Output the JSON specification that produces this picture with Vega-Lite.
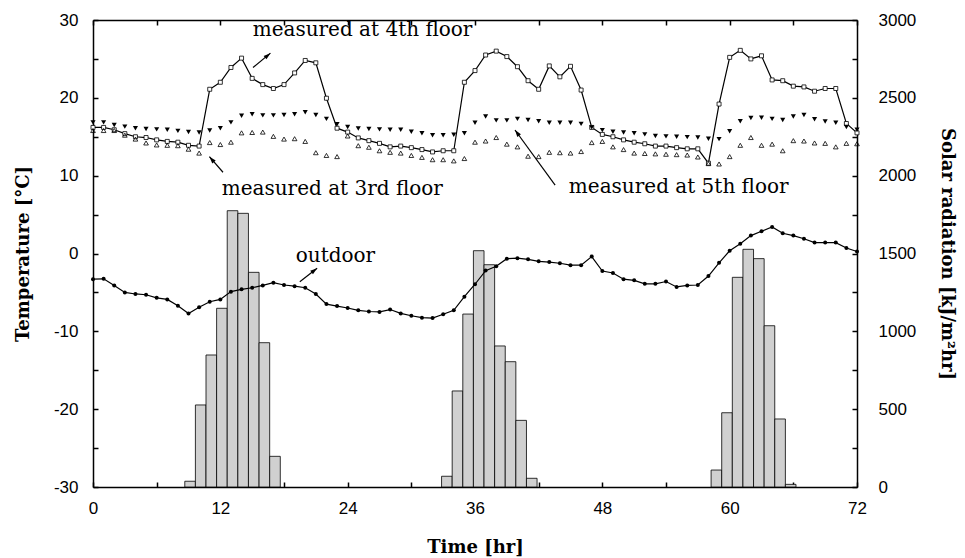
{
  "$schema": "https://vega.github.io/schema/vega-lite/v6.json",
  "width": 764,
  "height": 467,
  "autosize": {"type": "none"},
  "padding": {"left": 93, "top": 20, "right": 108, "bottom": 71},
  "background": "white",
  "config": {
    "view": {"stroke": null},
    "axis": {
      "domainColor": "black", "domainWidth": 1.5,
      "tickColor": "black", "tickWidth": 1.5, "tickSize": -5,
      "grid": false,
      "labelFont": "Liberation Sans", "labelFontSize": 17, "labelColor": "black",
      "labelFlush": false, "labelOverlap": false,
      "titleFont": "DejaVu Serif", "titleFontWeight": "bold", "titleFontSize": 18, "titleColor": "black"
    }
  },
  "datasets": {
    "temp": [
      {"h":0,"f4":16.2,"f5":16.85,"f3":15.8,"out":-3.3},
      {"h":1,"f4":16.2,"f5":16.85,"f3":15.8,"out":-3.25},
      {"h":2,"f4":15.9,"f5":16.5,"f3":15.8,"out":-4.1},
      {"h":3,"f4":15.4,"f5":16.3,"f3":15.2,"out":-5.0},
      {"h":4,"f4":15.0,"f5":16.1,"f3":14.7,"out":-5.2},
      {"h":5,"f4":14.9,"f5":16.0,"f3":14.2,"out":-5.3},
      {"h":6,"f4":14.6,"f5":15.95,"f3":13.95,"out":-5.7},
      {"h":7,"f4":14.4,"f5":15.9,"f3":13.9,"out":-5.9},
      {"h":8,"f4":14.3,"f5":15.75,"f3":13.85,"out":-6.7},
      {"h":9,"f4":13.9,"f5":15.6,"f3":13.4,"out":-7.7},
      {"h":10,"f4":13.8,"f5":15.55,"f3":12.9,"out":-6.9},
      {"h":11,"f4":21.1,"f5":15.8,"f3":14.25,"out":-6.2},
      {"h":12,"f4":22.0,"f5":16.1,"f3":14.0,"out":-5.9},
      {"h":13,"f4":23.9,"f5":16.85,"f3":14.3,"out":-4.9},
      {"h":14,"f4":25.1,"f5":17.7,"f3":15.5,"out":-4.6},
      {"h":15,"f4":22.5,"f5":17.9,"f3":15.55,"out":-4.4},
      {"h":16,"f4":21.7,"f5":17.75,"f3":15.6,"out":-4.1},
      {"h":17,"f4":21.2,"f5":17.75,"f3":15.05,"out":-3.75},
      {"h":18,"f4":21.7,"f5":17.8,"f3":14.7,"out":-4.05},
      {"h":19,"f4":23.2,"f5":17.9,"f3":14.75,"out":-4.2},
      {"h":20,"f4":24.8,"f5":18.15,"f3":14.4,"out":-4.4},
      {"h":21,"f4":24.5,"f5":17.8,"f3":12.95,"out":-5.2},
      {"h":22,"f4":19.95,"f5":17.3,"f3":12.6,"out":-6.5},
      {"h":23,"f4":16.1,"f5":16.6,"f3":12.45,"out":-6.75},
      {"h":24,"f4":15.6,"f5":16.25,"f3":15.1,"out":-7.0},
      {"h":25,"f4":14.85,"f5":16.05,"f3":13.85,"out":-7.3},
      {"h":26,"f4":14.5,"f5":16.0,"f3":13.65,"out":-7.45},
      {"h":27,"f4":14.15,"f5":15.95,"f3":13.2,"out":-7.5},
      {"h":28,"f4":13.7,"f5":15.9,"f3":13.0,"out":-7.2},
      {"h":29,"f4":13.8,"f5":15.9,"f3":12.9,"out":-7.7},
      {"h":30,"f4":13.6,"f5":15.65,"f3":12.6,"out":-8.0},
      {"h":31,"f4":13.35,"f5":15.45,"f3":12.35,"out":-8.25},
      {"h":32,"f4":13.05,"f5":15.2,"f3":12.05,"out":-8.3},
      {"h":33,"f4":13.2,"f5":15.2,"f3":12.05,"out":-7.8},
      {"h":34,"f4":13.2,"f5":15.25,"f3":11.9,"out":-7.3},
      {"h":35,"f4":22.0,"f5":15.45,"f3":12.2,"out":-5.55},
      {"h":36,"f4":23.5,"f5":16.8,"f3":14.3,"out":-3.95},
      {"h":37,"f4":25.5,"f5":17.6,"f3":14.45,"out":-2.2},
      {"h":38,"f4":26.0,"f5":17.1,"f3":14.9,"out":-1.65},
      {"h":39,"f4":25.3,"f5":17.1,"f3":14.05,"out":-0.67},
      {"h":40,"f4":24.0,"f5":17.3,"f3":13.7,"out":-0.6},
      {"h":41,"f4":22.2,"f5":17.15,"f3":12.5,"out":-0.75},
      {"h":42,"f4":21.1,"f5":17.0,"f3":12.45,"out":-1.0},
      {"h":43,"f4":24.1,"f5":16.8,"f3":13.0,"out":-1.1},
      {"h":44,"f4":22.7,"f5":16.8,"f3":12.95,"out":-1.25},
      {"h":45,"f4":24.05,"f5":16.8,"f3":12.9,"out":-1.5},
      {"h":46,"f4":21.0,"f5":16.65,"f3":13.1,"out":-1.5},
      {"h":47,"f4":16.2,"f5":16.2,"f3":14.25,"out":-0.4},
      {"h":48,"f4":15.3,"f5":15.85,"f3":14.4,"out":-2.25},
      {"h":49,"f4":15.0,"f5":15.65,"f3":13.7,"out":-2.5},
      {"h":50,"f4":14.6,"f5":15.55,"f3":13.35,"out":-3.3},
      {"h":51,"f4":14.3,"f5":15.45,"f3":12.9,"out":-3.45},
      {"h":52,"f4":14.1,"f5":15.3,"f3":12.85,"out":-3.9},
      {"h":53,"f4":13.8,"f5":15.1,"f3":12.8,"out":-3.9},
      {"h":54,"f4":13.8,"f5":15.05,"f3":12.75,"out":-3.6},
      {"h":55,"f4":13.6,"f5":15.0,"f3":12.7,"out":-4.3},
      {"h":56,"f4":13.45,"f5":14.95,"f3":12.65,"out":-4.1},
      {"h":57,"f4":13.45,"f5":14.9,"f3":12.4,"out":-4.05},
      {"h":58,"f4":11.6,"f5":14.75,"f3":11.55,"out":-2.9},
      {"h":59,"f4":19.2,"f5":14.7,"f3":11.5,"out":-1.2},
      {"h":60,"f4":25.2,"f5":15.7,"f3":12.45,"out":0.35},
      {"h":61,"f4":26.1,"f5":17.0,"f3":13.9,"out":1.25},
      {"h":62,"f4":25.0,"f5":17.4,"f3":14.9,"out":2.3},
      {"h":63,"f4":25.4,"f5":17.45,"f3":13.9,"out":2.85},
      {"h":64,"f4":22.3,"f5":17.3,"f3":14.05,"out":3.4},
      {"h":65,"f4":22.2,"f5":17.15,"f3":13.2,"out":2.6},
      {"h":66,"f4":21.5,"f5":17.6,"f3":14.5,"out":2.3},
      {"h":67,"f4":21.4,"f5":17.8,"f3":14.45,"out":1.9},
      {"h":68,"f4":20.85,"f5":17.25,"f3":14.2,"out":1.4},
      {"h":69,"f4":21.2,"f5":16.95,"f3":14.15,"out":1.4},
      {"h":70,"f4":21.2,"f5":16.8,"f3":13.7,"out":1.4},
      {"h":71,"f4":16.7,"f5":16.25,"f3":14.15,"out":0.7},
      {"h":72,"f4":15.5,"f5":15.9,"f3":14.1,"out":0.25}
    ],
    "solar": [
      {"t0":8.65,"t1":9.65,"R":37},
      {"t0":9.65,"t1":10.65,"R":527},
      {"t0":10.65,"t1":11.65,"R":848},
      {"t0":11.65,"t1":12.65,"R":1148},
      {"t0":12.65,"t1":13.65,"R":1775},
      {"t0":13.65,"t1":14.65,"R":1758},
      {"t0":14.65,"t1":15.65,"R":1379},
      {"t0":15.65,"t1":16.65,"R":927},
      {"t0":16.65,"t1":17.65,"R":197},
      {"t0":32.85,"t1":33.85,"R":69},
      {"t0":33.85,"t1":34.85,"R":617},
      {"t0":34.85,"t1":35.85,"R":1111},
      {"t0":35.85,"t1":36.85,"R":1518},
      {"t0":36.85,"t1":37.85,"R":1428},
      {"t0":37.85,"t1":38.85,"R":906},
      {"t0":38.85,"t1":39.85,"R":805},
      {"t0":39.85,"t1":40.85,"R":428},
      {"t0":40.85,"t1":41.85,"R":56},
      {"t0":58.25,"t1":59.25,"R":109},
      {"t0":59.25,"t1":60.25,"R":477},
      {"t0":60.25,"t1":61.25,"R":1347},
      {"t0":61.25,"t1":62.25,"R":1527},
      {"t0":62.25,"t1":63.25,"R":1467},
      {"t0":63.25,"t1":64.25,"R":1036},
      {"t0":64.25,"t1":65.25,"R":437},
      {"t0":65.25,"t1":66.25,"R":17}
    ],
    "notes": [
      {"label":"measured at 4th floor","h":25.4,"T":27.95},
      {"label":"measured at 3rd floor","h":22.55,"T":7.5},
      {"label":"measured at 5th floor","h":55.2,"T":7.75},
      {"label":"outdoor","h":22.85,"T":-1.05}
    ],
    "arrows": [
      {"id":"a4","h0":15.08,"T0":23.9,"h1":16.72,"T1":25.74},
      {"id":"a3","h0":12.25,"T0":10.44,"h1":10.97,"T1":12.44},
      {"id":"a5","h0":43.55,"T0":8.79,"h1":39.77,"T1":15.87},
      {"id":"ao","h0":19.49,"T0":-3.62,"h1":21.12,"T1":-1.9}
    ]
  },
  "resolve": {"scale": {"y": "independent"}, "axis": {"x": "independent"}},
  "layer": [
    {
      "data": {"name": "solar"},
      "mark": {"type": "bar", "fill": "#d0d0d0", "stroke": "black", "strokeWidth": 0.8},
      "encoding": {
        "x": {"field": "t0", "type": "quantitative",
              "scale": {"domain": [0, 72], "nice": false, "zero": false},
              "axis": {"orient": "bottom", "values": [0,6,12,18,24,30,36,42,48,54,60,66,72],
                       "labelExpr": "datum.value % 12 === 0 ? datum.label : ''",
                       "labelPadding": 18, "title": "Time [hr]", "titlePadding": 22}},
        "x2": {"field": "t1"},
        "y": {"field": "R", "type": "quantitative",
              "scale": {"domain": [0, 3000], "nice": false},
              "axis": {"orient": "right", "values": [0,250,500,750,1000,1250,1500,1750,2000,2250,2500,2750,3000],
                       "labelExpr": "datum.value % 500 === 0 ? datum.label : ''", "format": "d",
                       "labelPadding": 26, "title": "Solar radiation [kJ/m²hr]", "titlePadding": 22}},
        "y2": {"datum": 0}
      }
    },
    {
      "data": {"name": "temp"},
      "mark": {"type": "line", "color": "black", "strokeWidth": 1.2},
      "encoding": {
        "x": {"field": "h", "type": "quantitative",
              "axis": {"orient": "top", "values": [0,6,12,18,24,30,36,42,48,54,60,66,72], "labels": false, "title": null}},
        "y": {"field": "f4", "type": "quantitative",
              "scale": {"domain": [-30, 30], "nice": false, "zero": false},
              "axis": {"orient": "left", "values": [-30,-25,-20,-15,-10,-5,0,5,10,15,20,25,30],
                       "labelExpr": "datum.value % 10 === 0 ? '' + datum.value : ''",
                       "labelPadding": 20, "title": "Temperature [°C]", "titlePadding": 21}}
      }
    },
    {
      "data": {"name": "temp"},
      "mark": {"type": "point", "shape": "square", "filled": true, "fill": "white", "stroke": "black", "strokeWidth": 0.8, "size": 16, "opacity": 1},
      "encoding": {
        "x": {"field": "h", "type": "quantitative", "axis": null},
        "y": {"field": "f4", "type": "quantitative", "scale": {"domain": [-30, 30], "nice": false, "zero": false}, "axis": null}
      }
    },
    {
      "data": {"name": "temp"},
      "mark": {"type": "point", "shape": "triangle-down", "filled": true, "color": "black", "size": 26, "opacity": 1},
      "encoding": {
        "x": {"field": "h", "type": "quantitative", "axis": null},
        "y": {"field": "f5", "type": "quantitative", "scale": {"domain": [-30, 30], "nice": false, "zero": false}, "axis": null}
      }
    },
    {
      "data": {"name": "temp"},
      "mark": {"type": "point", "shape": "triangle-up", "filled": false, "stroke": "black", "strokeWidth": 0.8, "size": 22, "opacity": 1},
      "encoding": {
        "x": {"field": "h", "type": "quantitative", "axis": null},
        "y": {"field": "f3", "type": "quantitative", "scale": {"domain": [-30, 30], "nice": false, "zero": false}, "axis": null}
      }
    },
    {
      "data": {"name": "temp"},
      "mark": {"type": "line", "color": "black", "strokeWidth": 1.2},
      "encoding": {
        "x": {"field": "h", "type": "quantitative", "axis": null},
        "y": {"field": "out", "type": "quantitative", "scale": {"domain": [-30, 30], "nice": false, "zero": false}, "axis": null}
      }
    },
    {
      "data": {"name": "temp"},
      "mark": {"type": "point", "shape": "circle", "filled": true, "color": "black", "size": 16, "opacity": 1},
      "encoding": {
        "x": {"field": "h", "type": "quantitative", "axis": null},
        "y": {"field": "out", "type": "quantitative", "scale": {"domain": [-30, 30], "nice": false, "zero": false}, "axis": null}
      }
    },
    {
      "data": {"name": "notes"},
      "mark": {"type": "text", "font": "DejaVu Serif", "fontSize": 20, "align": "center", "baseline": "alphabetic", "color": "black"},
      "encoding": {
        "x": {"field": "h", "type": "quantitative", "axis": null},
        "y": {"field": "T", "type": "quantitative", "scale": {"domain": [-30, 30], "nice": false, "zero": false}, "axis": null},
        "text": {"field": "label"}
      }
    },
    {
      "data": {"name": "arrows"},
      "mark": {"type": "rule", "color": "black", "strokeWidth": 1.2},
      "encoding": {
        "x": {"field": "h0", "type": "quantitative", "axis": null},
        "y": {"field": "T0", "type": "quantitative", "scale": {"domain": [-30, 30], "nice": false, "zero": false}, "axis": null},
        "x2": {"field": "h1"},
        "y2": {"field": "T1"}
      }
    },
    {
      "data": {"name": "arrows"},
      "transform": [{"filter": "datum.id === 'a4'"}],
      "mark": {"type": "point", "shape": "M0,0L-0.32,1L0.32,1Z", "filled": true, "color": "black", "size": 196, "opacity": 1, "angle": 50},
      "encoding": {
        "x": {"field": "h1", "type": "quantitative", "axis": null},
        "y": {"field": "T1", "type": "quantitative", "scale": {"domain": [-30, 30], "nice": false, "zero": false}, "axis": null}
      }
    },
    {
      "data": {"name": "arrows"},
      "transform": [{"filter": "datum.id === 'a3'"}],
      "mark": {"type": "point", "shape": "M0,0L-0.32,1L0.32,1Z", "filled": true, "color": "black", "size": 196, "opacity": 1, "angle": 319},
      "encoding": {
        "x": {"field": "h1", "type": "quantitative", "axis": null},
        "y": {"field": "T1", "type": "quantitative", "scale": {"domain": [-30, 30], "nice": false, "zero": false}, "axis": null}
      }
    },
    {
      "data": {"name": "arrows"},
      "transform": [{"filter": "datum.id === 'a5'"}],
      "mark": {"type": "point", "shape": "M0,0L-0.32,1L0.32,1Z", "filled": true, "color": "black", "size": 196, "opacity": 1, "angle": 324},
      "encoding": {
        "x": {"field": "h1", "type": "quantitative", "axis": null},
        "y": {"field": "T1", "type": "quantitative", "scale": {"domain": [-30, 30], "nice": false, "zero": false}, "axis": null}
      }
    },
    {
      "data": {"name": "arrows"},
      "transform": [{"filter": "datum.id === 'ao'"}],
      "mark": {"type": "point", "shape": "M0,0L-0.32,1L0.32,1Z", "filled": true, "color": "black", "size": 196, "opacity": 1, "angle": 52},
      "encoding": {
        "x": {"field": "h1", "type": "quantitative", "axis": null},
        "y": {"field": "T1", "type": "quantitative", "scale": {"domain": [-30, 30], "nice": false, "zero": false}, "axis": null}
      }
    }
  ]
}
